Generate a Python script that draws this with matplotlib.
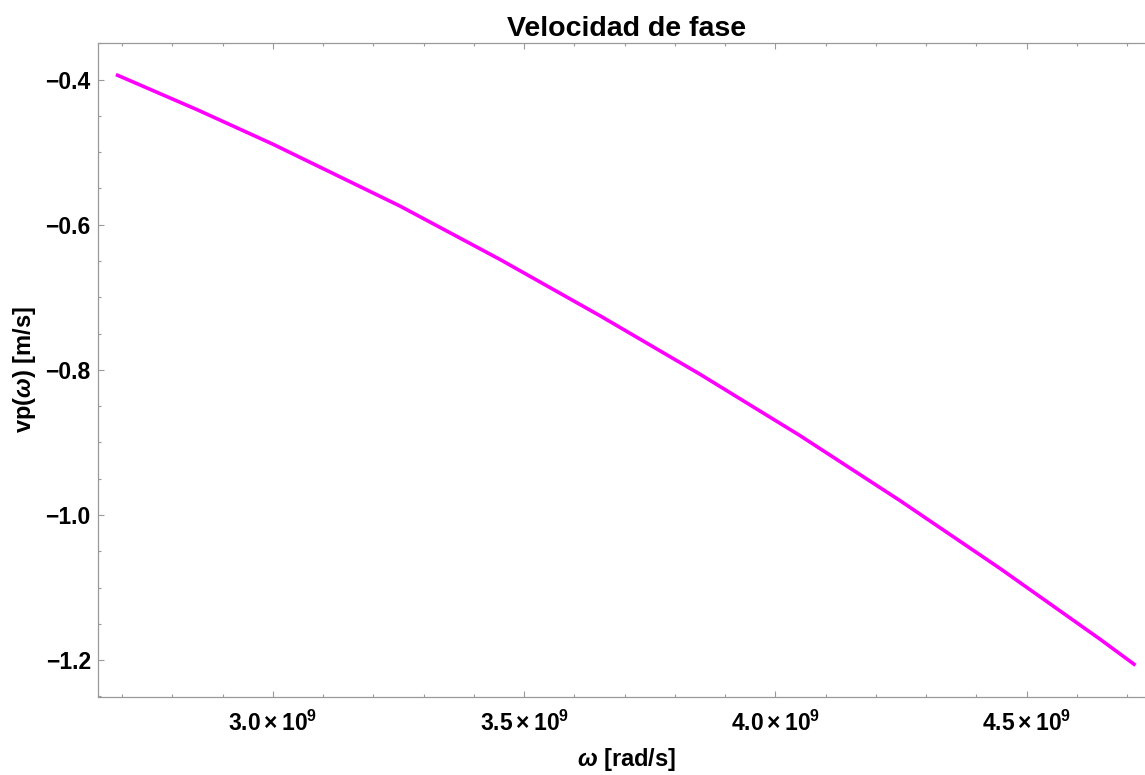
import matplotlib.pyplot as plt
import numpy as np
from matplotlib.ticker import MultipleLocator, FuncFormatter

plt.rcParams['font.family'] = ['Liberation Sans', 'DejaVu Sans']
plt.rcParams['font.weight'] = 'bold'
plt.rcParams['mathtext.fontset'] = 'custom'
plt.rcParams['mathtext.rm'] = 'Liberation Sans:bold'
plt.rcParams['mathtext.bf'] = 'Liberation Sans:bold'
plt.rcParams['mathtext.it'] = 'Liberation Sans:bold:italic'

# frecuencia angular [rad/s] y velocidad de fase [m/s]
omega = np.array([2.691, 2.85, 3.0, 3.253, 3.452, 3.651, 3.850,
                  4.049, 4.248, 4.447, 4.646, 4.7135]) * 1e9
vp = [-0.394, -0.4417, -0.489, -0.5743, -0.6479, -0.7255, -0.8061,
      -0.8907, -0.9803, -1.0738, -1.1713, -1.2057]

fig = plt.figure(figsize=(11.45, 7.75), dpi=100)
ax = fig.add_axes([0.0854, 0.1010, 0.9228, 0.8431])

ax.plot(omega, vp, color='#ff00ff', lw=2.6)

ax.set_xlim(2.6516e9, 4.754e9)
ax.set_ylim(-1.2505, -0.35)

ax.xaxis.set_major_locator(MultipleLocator(0.5e9))
ax.xaxis.set_minor_locator(MultipleLocator(0.1e9))
ax.yaxis.set_major_locator(MultipleLocator(0.2))
ax.yaxis.set_minor_locator(MultipleLocator(0.05))

def fmt_x(v, pos):
    return r'$\mathbf{%.1f}\times\mathbf{10^{9}}$' % (v / 1e9)

def fmt_y(v, pos):
    return '\u2212%.1f' % abs(v) if v < 0 else '%.1f' % v

ax.xaxis.set_major_formatter(FuncFormatter(fmt_x))
ax.yaxis.set_major_formatter(FuncFormatter(fmt_y))

for s in ax.spines.values():
    s.set_color('#999999')
    s.set_linewidth(0.9)

ax.tick_params(which='both', direction='in', top=True, right=True,
               color='#999999', width=0.8, labelsize=16.5)
ax.tick_params(which='major', length=4.5)
ax.tick_params(which='minor', length=2.5)
ax.tick_params(axis='x', pad=10)
ax.tick_params(axis='y', pad=5)

ax.set_title('Velocidad de fase', fontsize=20.5, fontweight='bold', pad=5)
ax.set_xlabel(r'$\omega$ [rad/s]', fontsize=17, fontweight='bold', labelpad=7)
ax.set_ylabel(r'vp($\omega$) [m/s]', fontsize=17, fontweight='bold', labelpad=5.5)

fig.savefig('out.png', dpi=100)
